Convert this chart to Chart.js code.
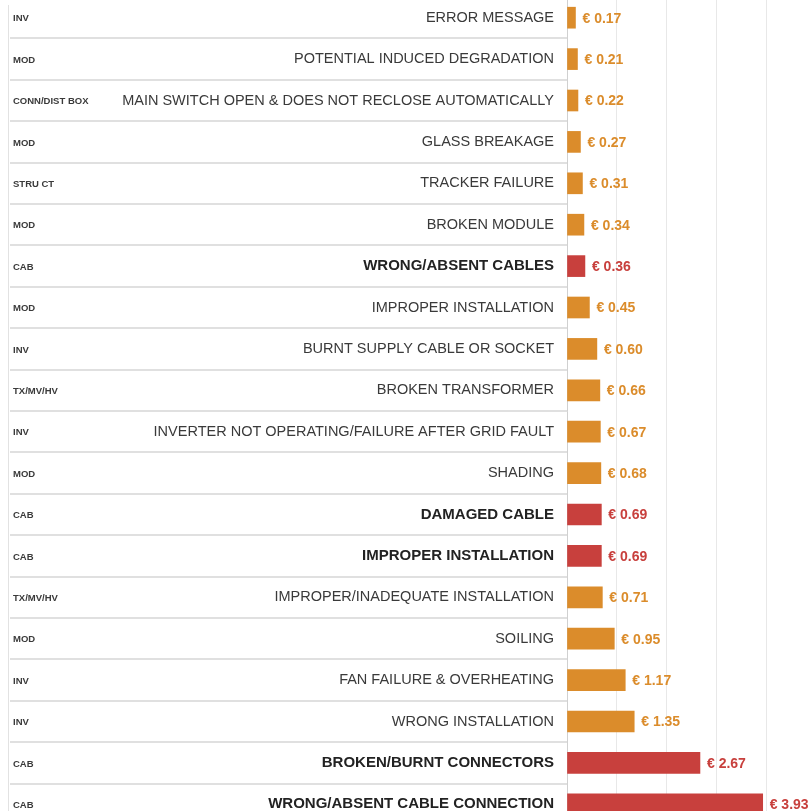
<!DOCTYPE html>
<html>
<head>
<meta charset="utf-8">
<script src="https://cdn.jsdelivr.net/npm/chart.js@4"></script>
<style>
  html, body { margin: 0; padding: 0; background: #fff; overflow: hidden; }
  #wrap { position: absolute; left: 0; top: -3px; width: 810px; height: 828px; }
  #frame { position: absolute; left: 8px; top: 5px; width: 1px; height: 820px; background: #e2e2e2; }
</style>
</head>
<body>
<div id="wrap"><canvas id="chart-canvas" width="810" height="828"></canvas></div>
<div id="frame"></div>
<script>
"use strict";

// component group of each failure
let codes = ["INV", "MOD", "CONN/DIST BOX", "MOD", "STRU CT", "MOD", "CAB", "MOD", "INV", "TX/MV/HV",
  "INV", "MOD", "CAB", "CAB", "TX/MV/HV", "MOD", "INV", "INV", "CAB", "CAB"];

let failures = [
  "ERROR MESSAGE",
  "POTENTIAL INDUCED DEGRADATION",
  "MAIN SWITCH OPEN & DOES NOT RECLOSE AUTOMATICALLY",
  "GLASS BREAKAGE",
  "TRACKER FAILURE",
  "BROKEN MODULE",
  "WRONG/ABSENT CABLES",
  "IMPROPER INSTALLATION",
  "BURNT SUPPLY CABLE OR SOCKET",
  "BROKEN TRANSFORMER",
  "INVERTER NOT OPERATING/FAILURE AFTER GRID FAULT",
  "SHADING",
  "DAMAGED CABLE",
  "IMPROPER INSTALLATION",
  "IMPROPER/INADEQUATE INSTALLATION",
  "SOILING",
  "FAN FAILURE & OVERHEATING",
  "WRONG INSTALLATION",
  "BROKEN/BURNT CONNECTORS",
  "WRONG/ABSENT CABLE CONNECTION",
];

// cost in euro
let costs = [0.17, 0.21, 0.22, 0.27, 0.31, 0.34, 0.36, 0.45, 0.60, 0.66,
  0.67, 0.68, 0.69, 0.69, 0.71, 0.95, 1.17, 1.35, 2.67, 3.93];

let orange = "#db8c2b";
let red = "#c8403d";
let fontFam = "'Liberation Sans', Arial, sans-serif";

function isCab(i) {
  return codes[i] === "CAB";
}

let barColors = [];
for (let i = 0; i < codes.length; i++) {
  barColors.push(isCab(i) ? red : orange);
}

// value text next to every bar + the small group code on the left
let labelPlugin = {
  id: "labels",
  afterDatasetsDraw(chart) {
    let ctx = chart.ctx;
    let meta = chart.getDatasetMeta(0);
    let yScale = chart.scales.y;
    ctx.save();
    ctx.textBaseline = "middle";
    ctx.font = "bold 14px " + fontFam;
    ctx.textAlign = "left";
    meta.data.forEach(function (bar, i) {
      ctx.fillStyle = barColors[i];
      ctx.fillText("€ " + costs[i].toFixed(2), bar.x + 7, bar.y + 1);
    });
    ctx.font = "bold 9.5px " + fontFam;
    ctx.fillStyle = "#3a3a3a";
    for (let i = 0; i < codes.length; i++) {
      ctx.fillText(codes[i], 13, yScale.getPixelForValue(i) + 1);
    }
    ctx.restore();
  },
};

let chart = new Chart(document.getElementById("chart-canvas"), {
  type: "bar",
  data: {
    labels: failures,
    datasets: [
      {
        data: costs,
        backgroundColor: barColors,
        barThickness: 21,
      },
    ],
  },
  options: {
    indexAxis: "y",
    responsive: false,
    animation: false,
    layout: { padding: 0 },
    plugins: {
      legend: { display: false },
      tooltip: { enabled: false },
    },
    scales: {
      x: {
        min: 0,
        max: 4.88,
        ticks: { display: false, stepSize: 1 },
        grid: { color: "#e8e8e8", drawTicks: false, lineWidth: 1 },
        border: { display: false },
        afterFit: function (s) { s.height = 0; },
      },
      y: {
        grid: {
          drawOnChartArea: false,
          drawTicks: true,
          tickLength: 557,
          color: "#e0e0e0",
          lineWidth: 2,
        },
        border: { display: true, color: "#d0d0d0", width: 1 },
        ticks: {
          padding: -544,
          crossAlign: "near",
          autoSkip: false,
          color: function (c) { return isCab(c.index) ? "#222" : "#3a3a3a"; },
          font: function (c) {
            let cab = isCab(c.index);
            return { family: fontFam, size: cab ? 15 : 14.5, weight: cab ? "bold" : "normal" };
          },
        },
        afterFit: function (s) { s.width = 567; },
      },
    },
  },
  plugins: [labelPlugin],
});
</script>
</body>
</html>
